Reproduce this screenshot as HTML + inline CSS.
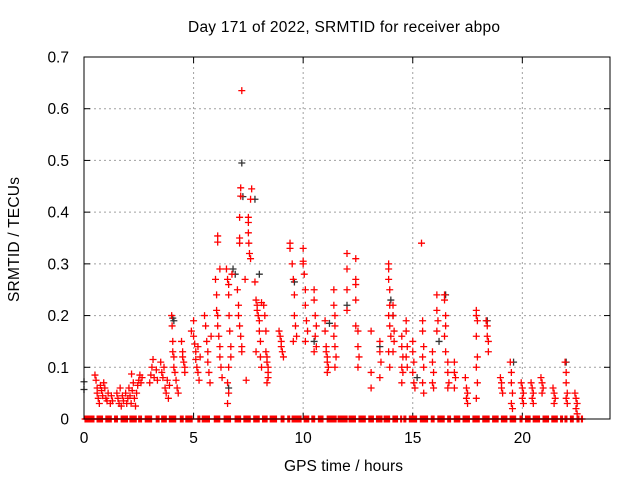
<!DOCTYPE html>
<html><head><meta charset="utf-8"><style>
body{margin:0;background:#fff}
svg{display:block;font-family:"Liberation Sans",sans-serif}
</style></head><body>
<svg id="chart" width="640" height="480">
<text x="188" y="32" textLength="312" lengthAdjust="spacing" font-size="15.5">Day 171 of 2022, SRMTID for receiver abpo</text>
<text x="284" y="471" textLength="119" lengthAdjust="spacing" font-size="15.5">GPS time / hours</text>
<text transform="translate(19,302) rotate(-90)" textLength="125" lengthAdjust="spacing" font-size="15.5">SRMTID / TECUs</text>
<g id="grid"></g>
<g id="ticks"></g>
<g id="black"></g>
<g id="red"></g>
<rect x="84" y="57" width="526" height="362" fill="none" stroke="#000" stroke-width="1"/>
</svg>
<script>
const xTicks=[0,5,10,15,20];
const yTicks=[0,0.1,0.2,0.3,0.4,0.5,0.6,0.7];
const yTickLabels=["0","0.1","0.2","0.3","0.4","0.5","0.6","0.7"];
const redPoints=[
[0.5,0.085],[0.55,0.075],[0.6,0.06],[0.6,0.05],[0.65,0.04],[0.7,0.03],[0.75,0.065],[0.8,0.055],[0.85,0.045],[0.9,0.07],[0.95,0.06],[1.0,0.04],[1.05,0.035],[1.1,0.05],[1.2,0.03],[1.25,0.045],[1.3,0.035],
[1.5,0.05],[1.55,0.04],[1.6,0.03],[1.65,0.06],[1.7,0.025],[1.75,0.045],[1.8,0.035],[1.9,0.05],[1.95,0.03],[2.0,0.04],
[2.05,0.06],[2.1,0.045],[2.15,0.03],[2.17,0.087],[2.2,0.055],[2.25,0.07],[2.3,0.04],[2.35,0.025],[2.4,0.05],[2.45,0.065],[2.5,0.075],[2.55,0.085],[2.6,0.07],[2.65,0.08],
[3.0,0.07],[3.05,0.085],[3.1,0.1],[3.15,0.115],[3.2,0.08],[3.3,0.095],[3.35,0.075],
[3.5,0.11],[3.55,0.09],[3.6,0.08],[3.65,0.1],[3.7,0.06],[3.75,0.05],[3.8,0.075],[3.85,0.04],[3.9,0.065],
[4.0,0.2],[4.02,0.18],[4.05,0.15],[4.05,0.13],[4.1,0.12],[4.1,0.1],[4.15,0.09],[4.2,0.075],[4.25,0.06],[4.3,0.05],
[4.45,0.15],[4.5,0.13],[4.5,0.12],[4.55,0.11],[4.6,0.1],[4.6,0.09],
[4.9,0.17],[5.0,0.19],[5.0,0.16],[5.05,0.145],[5.1,0.13],[5.1,0.115],[5.15,0.1],[5.2,0.09],[5.25,0.075],[5.2,0.14],[5.3,0.12],
[5.5,0.2],[5.55,0.18],[5.6,0.15],[5.65,0.13],[5.65,0.11],[5.7,0.09],[5.75,0.07],[5.8,0.16],
[6.0,0.27],[6.05,0.24],[6.05,0.21],[6.1,0.2],[6.1,0.18],[6.15,0.16],[6.2,0.14],[6.2,0.12],[6.25,0.1],[6.3,0.08],[6.1,0.354],[6.1,0.342],[6.2,0.29],
[6.5,0.29],[6.55,0.27],[6.6,0.26],[6.6,0.24],[6.62,0.2],[6.65,0.17],[6.7,0.14],[6.7,0.12],[6.6,0.1],[6.55,0.07],[6.6,0.05],[6.55,0.03],[6.75,0.28],
[7.0,0.25],[7.05,0.22],[7.05,0.2],[7.1,0.18],[7.15,0.16],[7.2,0.14],[7.2,0.13],[7.1,0.35],[7.1,0.34],[7.1,0.39],
[7.2,0.635],[7.15,0.447],[7.15,0.431],[7.5,0.39],[7.5,0.38],[7.5,0.36],[7.52,0.34],[7.55,0.32],[7.6,0.31],[7.65,0.445],[7.6,0.425],
[7.4,0.075],[7.35,0.27],
[7.8,0.265],[7.85,0.23],[7.9,0.22],[7.9,0.21],[7.95,0.2],[8.0,0.19],[8.0,0.17],[8.05,0.15],[8.05,0.12],[8.1,0.1],[7.85,0.13],[8.1,0.225],
[8.2,0.22],[8.25,0.2],[8.3,0.17],[8.3,0.13],[8.35,0.12],[8.35,0.11],[8.4,0.1],[8.4,0.09],[8.4,0.08],[8.35,0.07],
[8.9,0.17],[8.95,0.16],[9.0,0.15],[9.0,0.14],[9.05,0.13],[9.1,0.12],
[9.4,0.34],[9.4,0.33],[9.5,0.3],[9.55,0.27],[9.6,0.24],[9.6,0.2],[9.65,0.18],[9.7,0.16],[9.55,0.15],
[10.0,0.33],[10.0,0.305],[10.0,0.3],[10.05,0.28],[10.1,0.25],[10.1,0.22],[10.15,0.19],[10.2,0.17],[10.1,0.15],
[10.5,0.25],[10.5,0.23],[10.55,0.2],[10.6,0.18],[10.55,0.16],[10.6,0.14],[10.5,0.13],
[11.0,0.19],[11.0,0.17],[11.05,0.14],[11.05,0.13],[11.1,0.12],[11.1,0.11],[11.15,0.1],[11.1,0.09],
[11.4,0.25],[11.4,0.22],[11.45,0.2],[11.45,0.18],[11.4,0.16],[11.45,0.14],[11.5,0.12],[11.45,0.1],
[12.0,0.32],[12.0,0.29],[12.0,0.25],[12.0,0.21],[12.4,0.31],[12.4,0.27],[12.4,0.26],[12.4,0.23],[12.4,0.18],
[12.5,0.17],[12.5,0.14],[12.55,0.12],[12.5,0.1],
[13.1,0.17],[13.1,0.09],[13.1,0.06],[13.5,0.15],[13.5,0.13],[13.55,0.11],[13.5,0.08],
[13.9,0.3],[13.9,0.29],[13.9,0.27],[13.95,0.25],[13.95,0.22],[13.9,0.2],[13.95,0.18],[14.0,0.16],[13.9,0.13],[13.95,0.1],
[14.1,0.22],[14.1,0.2],[14.15,0.17],[14.15,0.15],[14.1,0.13],
[14.5,0.16],[14.5,0.14],[14.55,0.12],[14.5,0.1],[14.55,0.09],[14.5,0.07],
[14.7,0.19],[14.7,0.17],[14.75,0.14],[14.7,0.12],[14.75,0.1],
[15.0,0.15],[15.0,0.13],[15.05,0.11],[15.0,0.09],[15.05,0.07],[15.1,0.06],
[15.4,0.34],[15.45,0.19],[15.45,0.17],[15.5,0.14],[15.45,0.12],[15.5,0.1],[15.45,0.07],[15.5,0.05],
[15.9,0.13],[15.9,0.11],[15.95,0.09],[15.9,0.07],[15.95,0.06],
[16.1,0.24],[16.1,0.21],[16.15,0.19],[16.1,0.17],[16.45,0.24],[16.45,0.23],[16.5,0.2],[16.5,0.18],[16.45,0.16],[16.5,0.13],
[16.6,0.11],[16.6,0.09],[16.65,0.07],[16.6,0.06],
[16.9,0.11],[16.9,0.09],[16.95,0.08],[16.9,0.06],
[17.4,0.08],[17.45,0.06],[17.5,0.05],[17.45,0.04],[17.5,0.03],
[17.9,0.21],[17.9,0.2],[17.95,0.19],[17.9,0.16],[17.95,0.12],[17.9,0.1],[17.95,0.07],[17.9,0.04],
[18.35,0.19],[18.4,0.18],[18.4,0.16],[18.45,0.15],[18.45,0.13],
[19.0,0.08],[19.05,0.07],[19.05,0.06],[19.1,0.05],
[19.45,0.11],[19.5,0.09],[19.5,0.07],[19.55,0.05],[19.5,0.03],[19.55,0.02],
[19.95,0.07],[20.0,0.06],[20.05,0.05],[20.0,0.04],[20.05,0.03],
[20.4,0.07],[20.45,0.06],[20.5,0.05],[20.45,0.04],[20.5,0.03],
[20.85,0.08],[20.9,0.07],[20.95,0.06],[20.9,0.05],
[21.4,0.06],[21.45,0.05],[21.5,0.04],[21.45,0.03],
[21.95,0.11],[22.0,0.09],[22.0,0.07],[22.05,0.05],[22.0,0.04],[22.05,0.03],
[22.4,0.05],[22.45,0.04],[22.5,0.03],[22.45,0.02],[22.5,0.01]
];
const blackPoints=[[0,0.072],[0,0.057],[4.05,0.195],[4.1,0.19],[6.8,0.29],[6.9,0.28],[7.2,0.495],[7.25,0.43],[7.8,0.425],[9.6,0.265],[11.2,0.185],[12.0,0.22],[14.0,0.23],[14.1,0.2],[15.2,0.08],[16.2,0.15],[16.5,0.24],[18.4,0.19],[19.6,0.11],[22.0,0.11],[6.6,0.06],[10.5,0.15],[13.5,0.14],[8.0,0.28]];
// runs of consecutive zero-valued samples [start hour, end hour]
const zeroRunStarts=[0.05,0.6,1.0,1.4,1.7,2.1,2.5,2.8,3.3,3.55,3.9,4.4,4.65,5.2,5.4,5.95,6.4,6.9,7.3,7.75,8.15,8.5,9.0,9.3,9.5,10.05,10.4,10.7,11.1,11.6,12.1,12.55,13.0,13.35,13.7,14.1,14.45,14.6,14.85,15.35,15.85,16.15,16.6,16.9,17.3,17.75,18.2,18.65,19.05,19.45,19.9,20.15,20.5,20.95,21.35,21.75,21.95,22.2,22.5,22.7];
const zeroRunEnds=[0.45,0.85,1.25,1.55,2.0,2.4,2.65,3.1,3.45,3.75,4.2,4.55,4.95,5.3,5.75,6.2,6.7,7.15,7.6,8.0,8.35,8.8,9.15,9.4,9.9,10.25,10.55,10.9,11.5,12.0,12.4,12.85,13.2,13.6,13.95,14.3,14.5,14.7,15.2,15.7,16.0,16.45,16.75,17.15,17.6,18.05,18.5,18.9,19.3,19.7,20.0,20.35,20.8,21.2,21.6,21.85,22.05,22.35,22.6,22.75];
const NS='http://www.w3.org/2000/svg';
const X0=84,X1=610,Y0=419,Y1=57,XMAX=24,YMAX=0.7;
function xs(t){return X0+(X1-X0)*t/XMAX;}
function ys(v){return Y0-(Y0-Y1)*v/YMAX;}
function mk(tag,attrs,parent){const e=document.createElementNS(NS,tag);for(const k in attrs)e.setAttribute(k,attrs[k]);parent.appendChild(e);return e;}
const grid=document.getElementById('grid'),ticks=document.getElementById('ticks');
xTicks.forEach((t,i)=>{
  const x=xs(t);
  if(t>0){const l=mk('line',{x1:x,x2:x,y1:Y1,y2:Y0,stroke:'#a0a0a0','stroke-dasharray':'2,3'},grid);
  
  }
  mk('line',{x1:x,x2:x,y1:Y0,y2:Y0-6,stroke:'#000'},ticks);
  mk('line',{x1:x,x2:x,y1:Y1,y2:Y1+6,stroke:'#000'},ticks);
  const tx=mk('text',{x:x,y:443,'text-anchor':'middle','font-size':'15.5'},ticks);
  tx.textContent=String(t);
  
  
});
yTicks.forEach((v,i)=>{
  const y=ys(v);
  if(v>0&&v<0.7){const l=mk('line',{x1:X0,x2:X1,y1:y,y2:y,stroke:'#a0a0a0','stroke-dasharray':'2,3'},grid);
  
  }
  mk('line',{x1:X0,x2:X0+6,y1:y,y2:y,stroke:'#000'},ticks);
  mk('line',{x1:X1,x2:X1-6,y1:y,y2:y,stroke:'#000'},ticks);
  const tx=mk('text',{x:69,y:y+5.5,'text-anchor':'end','font-size':'15.5'},ticks);
  tx.textContent=yTickLabels[i];
  
  
});
function cross(g,t,v,col,name){
  const x=xs(t),y=ys(v);
  const p=mk('path',{d:`M${x-3.5},${y}H${x+3.5}M${x},${y-3.5}V${y+3.5}`,stroke:col,'stroke-width':'1.3',fill:'none'},g);
  
  
}
const bg=document.getElementById('black'),rg=document.getElementById('red');
blackPoints.forEach(p=>cross(bg,p[0],p[1],'#333','black-point'));
redPoints.forEach(p=>cross(rg,p[0],p[1],'#ff0000','red-point'));
zeroRunStarts.forEach((s,i)=>{
  for(let t=s;t<=zeroRunEnds[i]+1e-9;t+=0.04) cross(rg,t,0,'#ff0000','zero-point');
});
</script>
</body></html>
